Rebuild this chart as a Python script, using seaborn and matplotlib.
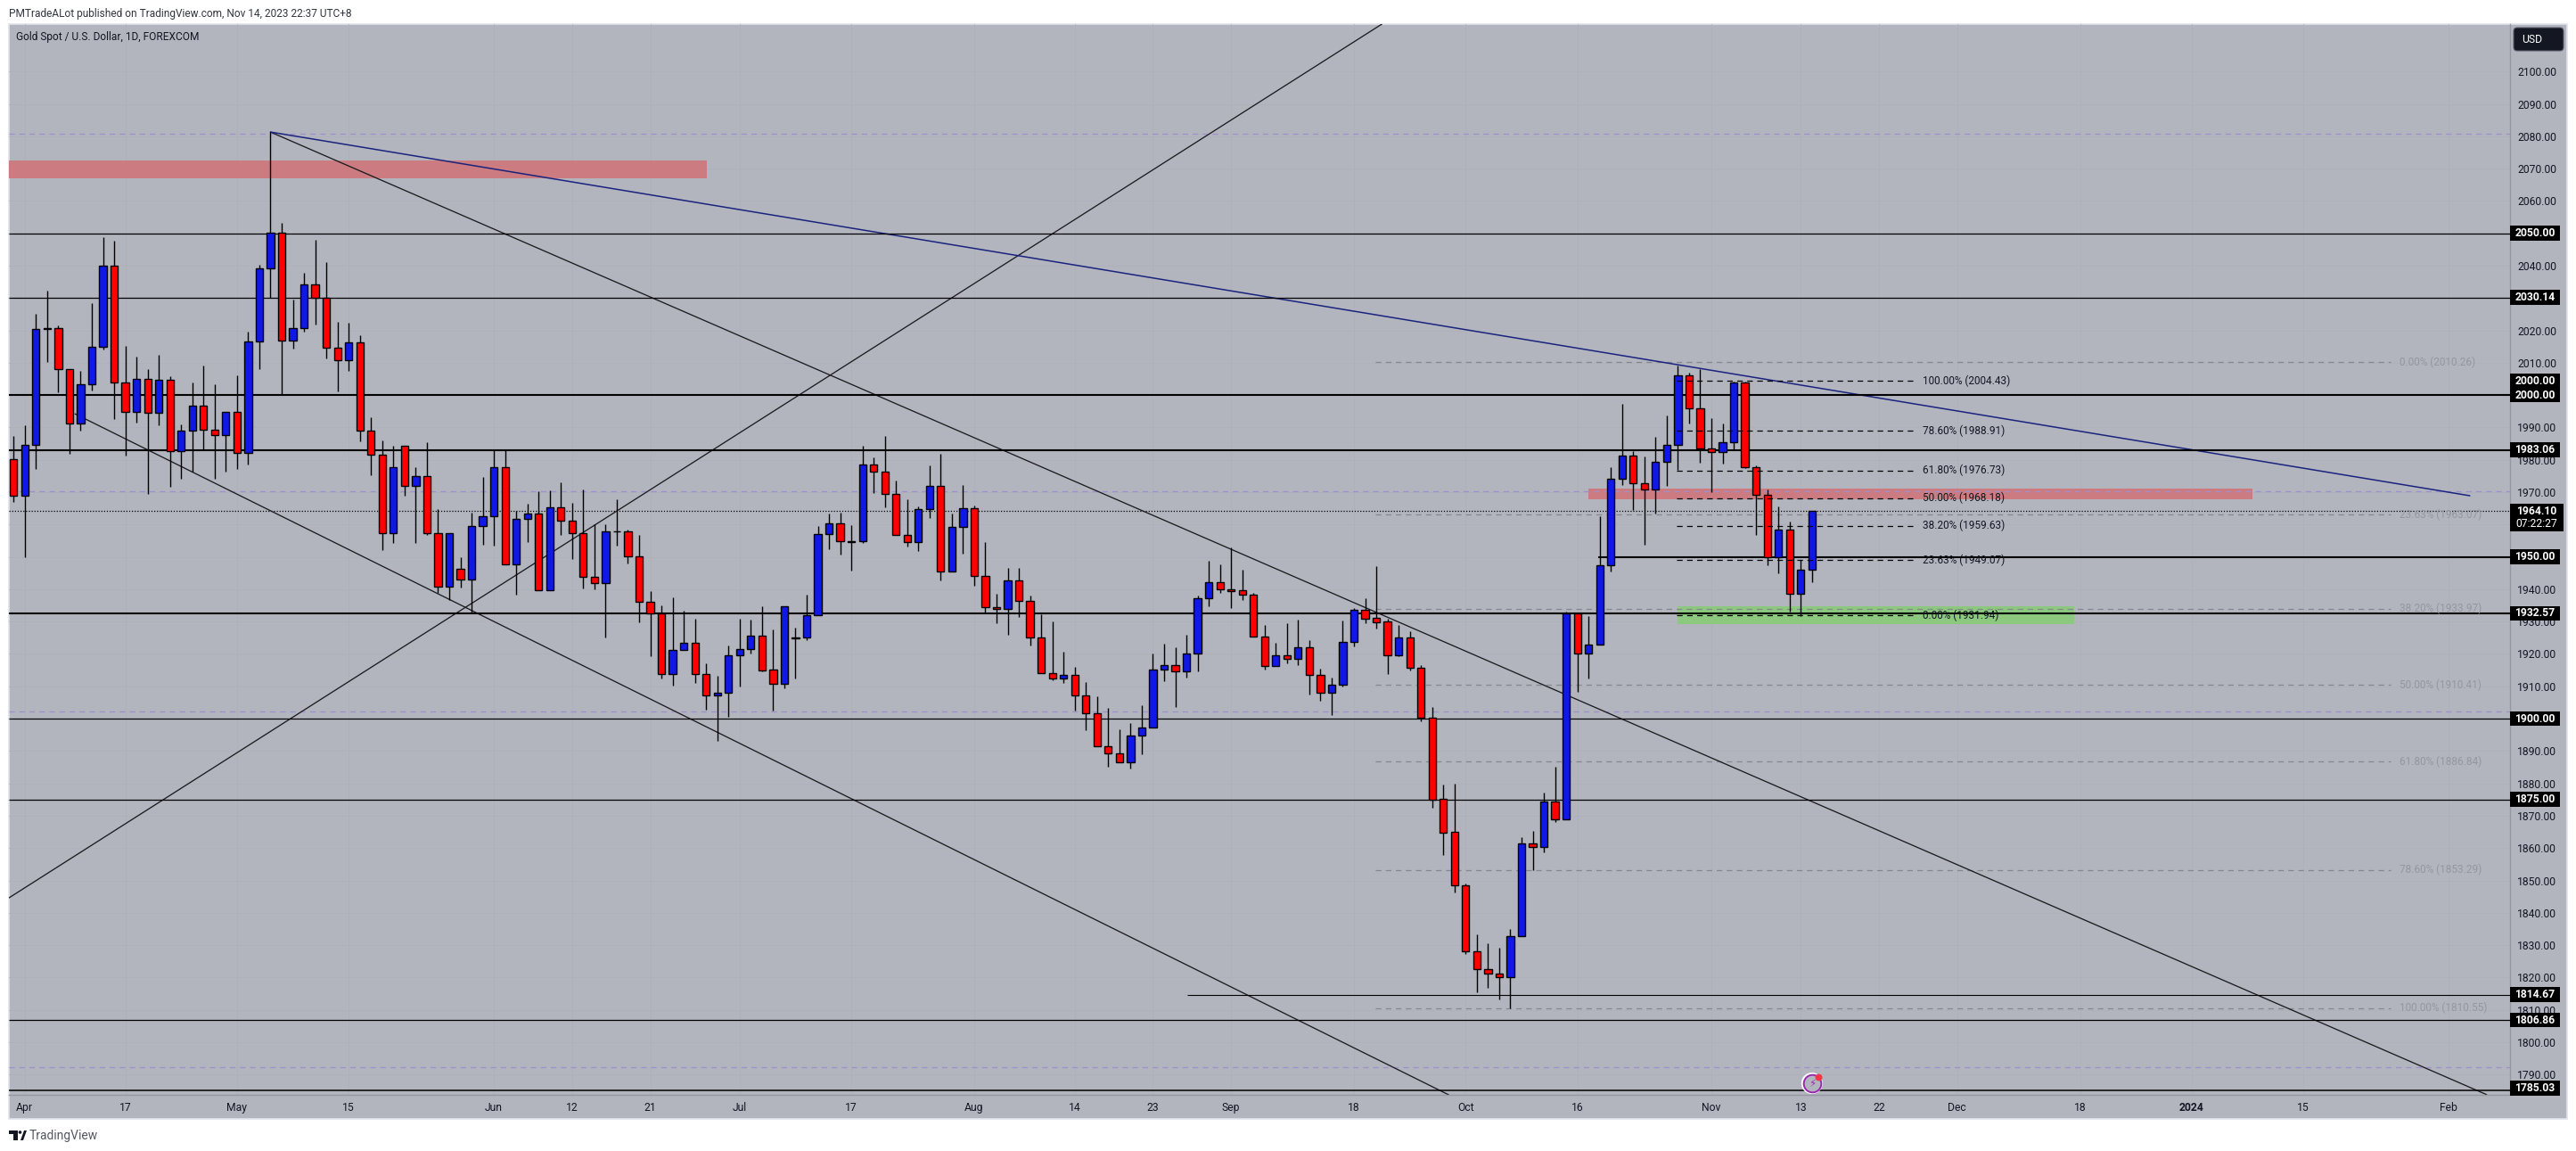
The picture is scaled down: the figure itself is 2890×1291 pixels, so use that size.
import matplotlib
matplotlib.use("Agg")
import matplotlib.pyplot as plt
import matplotlib.patches as mpatches
from matplotlib.transforms import Affine2D
import seaborn as sns
import pandas as pd

# ---------- data (prices) ----------
directions = ("RBBRRRBBBR RBRBRBBRRB RBBBRBBRRR BRRRBRBRRB RBBBRBBRBR "
              "RRRBBRRRRB BRRBBBBRRB BBBBRRBRRR RBBRBBRRRB RRRRBRRRRR "
              "BBBBRBBBRR RRRBRBRRBB BRRRBRRRRR RRRRBBRBRB RBBBBRRBBB "
              "RRRBBRRRBR BB").replace(" ", "")

highs = [1987.5,1990.6,2025.0,2032.2,2021.4,2008.1,2007.4,2028.3,2048.7,2047.6,
         2015.1,2011.8,2008.1,2012.4,2005.7,1990.9,2003.8,2009.2,2003.3,1994.9,
         2006.0,2019.5,2040.4,2081.3,2053.1,2029.4,2037.7,2048.1,2041.2,2022.5,
         2022.3,2018.4,1993.1,1986.1,1984.3,1984.2,1977.6,1985.4,1964.7,1957.2,
         1949.8,1963.6,1974.8,1983.2,1983.2,1964.1,1966.3,1970.3,1970.5,1973.0,
         1966.8,1970.9,1960.2,1960.2,1967.9,1958.5,1956.7,1939.5,1935.0,1937.4,
         1933.3,1930.8,1917.2,1913.2,1922.7,1930.9,1930.6,1934.8,1927.5,1934.7,
         1928.1,1938.3,1959.5,1963.4,1963.8,1959.8,1984.3,1980.8,1987.4,1973.6,
         1967.8,1965.5,1978.3,1981.8,1963.4,1972.2,1965.8,1954.6,1938.6,1946.6,
         1946.6,1938.0,1932.3,1930.1,1920.7,1916.0,1911.3,1906.9,1903.3,1896.7,
         1898.7,1904.2,1920.1,1923.2,1922.1,1925.9,1938.0,1948.8,1947.7,1952.8,
         1946.0,1938.8,1929.0,1923.5,1929.5,1930.6,1924.3,1915.5,1912.7,1930.3,
         1934.2,1937.2,1947.2,1930.9,1929.0,1927.0,1916.6,1903.7,1879.6,1879.9,
         1849.0,1833.3,1830.6,1829.1,1834.9,1863.5,1865.2,1877.1,1885.1,1933.0,
         1932.6,1931.7,1962.6,1977.6,1997.2,1982.8,1980.9,1987.2,1993.6,2009.2,
         2006.9,2008.1,1993.0,1991.1,2004.1,2004.3,1978.4,1970.9,1965.5,1960.8,
         1949.1,1964.1]

body_tops = [1980.3,1984.6,2020.5,2020.7,2020.7,2008.0,2003.4,2014.9,2040.1,2040.1,
             2004.0,2005.1,2005.1,2004.6,2004.6,1989.1,1996.8,1996.8,1989.4,1994.9,
             1994.9,2016.7,2039.3,2050.3,2050.3,2020.8,2034.3,2034.3,2030.2,2014.7,
             2016.4,2016.4,1989.1,1981.7,1977.8,1984.2,1975.1,1975.1,1957.2,1957.2,
             1946.4,1959.4,1962.7,1977.6,1977.6,1961.6,1963.5,1963.5,1965.4,1965.4,
             1961.3,1957.4,1943.7,1958.0,1958.0,1958.0,1950.3,1936.2,1932.6,1921.1,
             1923.3,1923.3,1913.7,1908.1,1919.7,1921.4,1925.6,1925.6,1915.1,1934.7,
             1925.0,1932.0,1957.0,1960.3,1960.3,1954.8,1978.5,1978.5,1976.3,1969.4,
             1956.7,1964.7,1971.9,1971.9,1959.2,1965.0,1965.0,1944.0,1934.4,1942.7,
             1942.7,1936.3,1925.0,1914.0,1913.4,1913.4,1907.1,1901.6,1891.4,1889.2,
             1894.7,1897.2,1915.1,1916.5,1916.5,1920.1,1937.1,1942.1,1942.1,1939.9,
             1939.6,1938.2,1925.5,1919.5,1919.5,1922.0,1922.0,1913.4,1910.4,1923.6,
             1933.6,1933.6,1931.1,1930.0,1925.0,1925.0,1915.7,1900.4,1875.1,1864.9,
             1848.4,1828.0,1822.7,1821.1,1832.7,1861.3,1861.3,1874.3,1874.3,1932.6,
             1932.6,1923.0,1947.5,1974.2,1981.4,1981.4,1972.8,1979.4,1984.7,2006.2,
             2006.2,1996.0,1983.6,1985.5,2003.9,2003.9,1977.8,1969.2,1958.5,1958.5,
             1946.1,1964.1]

body_bottoms = [1969.0,1969.0,1984.7,2020.5,2008.1,1991.3,1991.3,2003.4,2014.9,2004.0,
                1994.9,1994.9,1994.6,1994.6,1982.8,1982.8,1989.1,1989.4,1987.7,1987.7,
                1982.2,1982.2,2016.7,2039.3,2016.9,2016.9,2020.8,2030.2,2014.7,2010.8,
                2010.8,1989.1,1981.7,1957.4,1957.4,1971.8,1971.8,1957.2,1940.9,1940.9,
                1943.1,1943.1,1959.4,1962.7,1947.8,1947.8,1961.6,1939.8,1939.8,1961.3,
                1957.4,1943.7,1942.0,1942.0,1957.9,1950.3,1936.2,1932.6,1913.8,1913.8,
                1921.1,1913.7,1907.2,1907.3,1908.1,1919.5,1921.4,1915.0,1910.7,1910.7,
                1924.9,1925.0,1932.0,1957.0,1954.8,1954.7,1954.8,1976.3,1969.4,1956.7,
                1954.5,1954.5,1964.7,1945.4,1945.4,1959.2,1944.0,1934.4,1933.8,1933.8,
                1936.3,1925.0,1914.0,1912.3,1912.3,1907.1,1901.6,1891.4,1889.2,1886.4,
                1886.4,1894.7,1897.2,1915.1,1914.7,1914.7,1920.1,1937.1,1939.9,1939.5,
                1938.2,1925.5,1916.2,1916.2,1918.6,1918.6,1913.4,1907.9,1907.9,1910.4,
                1923.6,1931.0,1929.9,1919.7,1919.7,1915.7,1900.4,1875.0,1864.8,1848.4,
                1828.0,1822.7,1821.1,1820.0,1820.0,1832.7,1860.2,1860.2,1868.8,1868.8,
                1920.0,1920.0,1923.0,1947.5,1974.2,1972.8,1970.9,1970.9,1979.4,1984.7,
                1996.0,1983.6,1982.5,1982.5,1985.5,1977.8,1969.2,1950.0,1950.0,1938.7,
                1938.7,1946.1]

lows = [1967.0,1949.9,1977.2,2010.2,2000.9,1981.9,1989.0,2001.4,2014.1,1992.5,
        1981.3,1991.4,1969.5,1990.7,1971.7,1974.2,1976.3,1983.3,1974.2,1976.3,
        1977.2,1978.6,2008.0,2030.2,2000.2,2014.4,2019.5,2021.8,2011.3,2001.2,
        2007.4,1985.6,1975.3,1952.1,1954.3,1968.9,1954.3,1956.9,1938.8,1936.7,
        1940.5,1932.8,1953.8,1953.4,1947.8,1938.3,1954.6,1939.8,1939.8,1956.7,
        1949.4,1940.2,1940.0,1925.1,1953.4,1947.9,1929.7,1919.3,1912.5,1910.3,
        1921.1,1911.0,1902.7,1893.2,1900.5,1910.0,1920.0,1914.7,1902.5,1909.5,
        1912.4,1924.4,1931.9,1952.4,1950.7,1945.8,1954.4,1969.8,1965.4,1956.7,
        1953.2,1951.9,1962.0,1942.6,1945.4,1951.1,1941.2,1932.9,1929.6,1925.8,
        1931.5,1922.7,1914.0,1912.0,1910.9,1902.5,1896.3,1891.4,1885.0,1886.4,
        1884.7,1889.0,1897.2,1911.7,1903.6,1912.8,1914.5,1934.8,1939.0,1934.3,
        1936.8,1925.3,1915.3,1916.2,1917.2,1916.6,1907.5,1905.6,1901.0,1909.9,
        1922.4,1929.6,1927.9,1913.9,1919.3,1915.0,1899.1,1872.5,1857.9,1846.3,
        1827.2,1815.5,1816.9,1813.3,1810.5,1832.7,1853.2,1858.7,1868.1,1868.8,
        1908.3,1912.5,1923.0,1945.5,1972.2,1964.5,1953.7,1963.4,1971.8,1976.8,
        1991.1,1979.0,1970.0,1978.8,1983.3,1977.4,1956.7,1947.3,1944.9,1933.0,
        1931.7,1942.1]

# horizontal levels
level_prices = [2050.00, 2030.14, 2000.00, 1983.06, 1950.00, 1932.57, 1900.00, 1875.00, 1814.67, 1806.86, 1785.03]
level_starts = [-0.42, -0.42, -0.42, -0.42, 141.9, -0.42, -0.42, -0.42, 105.1, -0.42, -0.42]
level_widths = [0.9, 0.9, 1.5, 1.5, 1.5, 1.5, 0.9, 0.9, 0.8, 0.9, 1.1]
purple_levels = [2080.7, 1970.3, 1902.2, 1792.2]

# fibonacci retracements
fib_pct = ["100.00%", "78.60%", "61.80%", "50.00%", "38.20%", "23.63%", "0.00%"]
fib_black = [2004.43, 1988.91, 1976.73, 1968.18, 1959.63, 1949.07, 1931.94]
fib_grey_pct = ["0.00%", "23.63%", "38.20%", "50.00%", "61.80%", "78.60%", "100.00%"]
fib_grey = [2010.26, 1963.07, 1933.97, 1910.41, 1886.84, 1853.29, 1810.55]

# zones: x0, x1, low, high
zone_x0 = [-0.42, 141.0, 149.0]
zone_x1 = [62.1, 200.4, 184.5]
zone_low = [2066.9, 1967.7, 1929.1]
zone_high = [2072.5, 1971.0, 1934.8]

# trend lines (bar index, price)
line_x = [[23.0, 221.4], [5.5, 128.5], [-0.42, 122.5]]
line_y = [[2081.3, 1783.8], [1994.2, 1783.7], [1844.6, 2114.67]]
navy_x = [23.0, 219.9]
navy_y = [2081.3, 1968.9]

# axes labels
price_ticks = list(range(1790, 2110, 10))
time_pos = [1, 10, 20, 30, 43, 50, 57, 65, 75, 86, 95, 102, 109, 120, 130, 140, 152, 160, 167, 174, 185, 195, 205, 218]
time_labels = ["Apr", "17", "May", "15", "Jun", "12", "21", "Jul", "17", "Aug", "14", "23", "Sep", "18", "Oct",
               "16", "Nov", "13", "22", "Dec", "18", "2024", "15", "Feb"]
badge_prices = [2050.00, 2030.14, 2004.43, 2000.00, 1983.06, 1950.00, 1932.57, 1900.00, 1875.00, 1814.67, 1806.86, 1785.03 + 0.8]
badge_texts = ["2050.00", "2030.14", "2000.00", "2000.00", "1983.06", "1950.00", "1932.57", "1900.00", "1875.00",
               "1814.67", "1806.86", "1785.03"]
last_price = 1964.10
countdown = "07:22:27"

# ---------- style ----------
W, H = 2890, 1291
BG = "#B2B5BE"
INK = "#131722"
UP = "#1018E8"
DOWN = "#FF0000"
sns.set_theme(style="white", rc={"axes.facecolor": BG, "figure.facecolor": "white"})
plt.rcParams["font.family"] = ["Roboto", "DejaVu Sans"]

fig = plt.figure(figsize=(W / 100, H / 100), dpi=100)
px = Affine2D().scale(1 / W, -1 / H).translate(0, 1) + fig.transFigure

fig.add_artist(mpatches.Rectangle((10, 27), 2870, 1228, transform=px, facecolor=BG,
                                  edgecolor="#E0E3EB", linewidth=1.2, zorder=-5))
L, R, T, B = 10, 2816, 27, 1228
ax = fig.add_axes([L / W, 1 - B / H, (R - L) / W, (B - T) / H])
ax.patch.set_alpha(0)
ax.set_xlim(-0.42, 223.5)
ax.set_ylim(1783.73, 2114.67)
ax.set_axisbelow(True)

ax.yaxis.tick_right()
ax.set_yticks(price_ticks, [f"{v:.2f}" for v in price_ticks])
ax.set_xticks(time_pos, time_labels)
ax.tick_params(axis="y", length=0, pad=5.8, labelsize=8.7, labelcolor=INK)
ax.tick_params(axis="x", length=0, pad=5.5, labelsize=8.7, labelcolor=INK)
ax.get_xticklabels()[time_labels.index("2024")].set_fontweight("bold")
ax.grid(True, color="#AEB1BA", linewidth=0.7)
for s in ("top", "left"):
    ax.spines[s].set_visible(False)
for s in ("right", "bottom"):
    ax.spines[s].set_color("#9598A1")
    ax.spines[s].set_linewidth(1.0)

# zones
zone_colors = ["#CC7B80", "#CC7B80", "#8CC97E"]
for x0, x1, lo, hi, c in zip(zone_x0, zone_x1, zone_low, zone_high, zone_colors):
    ax.add_patch(mpatches.Rectangle((x0, lo), x1 - x0, hi - lo, facecolor=c, edgecolor="none", zorder=1))

# dashed/dotted levels
ax.hlines(purple_levels, -0.42, 223.5, color="#9D90CC", linewidth=0.9, linestyles=(0, (5, 4)), zorder=1.2)
ax.hlines(fib_grey, 121.9, 212.8, color="#85878F", linewidth=0.9, linestyles=(0, (5, 4)), zorder=1.3)
ax.hlines(last_price, -0.42, 223.5, color="black", linewidth=0.9, linestyles=(0, (1, 1.5)), zorder=1.4)

# candles
df = pd.DataFrame({"i": range(len(highs)), "high": highs, "low": lows, "top": body_tops,
                   "bottom": body_bottoms, "dir": list(directions)})
ax.vlines(df["i"], df["low"], df["high"], color="black", linewidth=1.0, zorder=3)
ax.bar(df["i"], df["top"] - df["bottom"], bottom=df["bottom"], width=0.66,
       color=[UP if d == "B" else DOWN for d in df["dir"]],
       edgecolor="black", linewidth=1.0, zorder=4)

# solid levels
for p, s, w in zip(level_prices, level_starts, level_widths):
    ax.hlines(p, s, 223.5, color="black", linewidth=w, zorder=2.6)

# black fib
ax.hlines(fib_black, 148.9, 170.3, color="black", linewidth=0.9, linestyles=(0, (5, 4)), zorder=4.5)

# trend lines
for xs, ys in zip(line_x, line_y):
    sns.lineplot(x=xs, y=ys, color="#1c1c20", linewidth=0.95, ax=ax, estimator=None, sort=False, zorder=2.4)
sns.lineplot(x=navy_x, y=navy_y, color="#1A237E", linewidth=1.1, ax=ax, estimator=None, sort=False, zorder=2.5)
ax.set_xlabel("")
ax.set_ylabel("")

# fib labels
for pct, v in zip(fib_pct, fib_black):
    ax.text(170.9, v, f"{pct} ({v:.2f})", color=INK, fontsize=8.5, va="center", ha="left", zorder=5)
for pct, v in zip(fib_grey_pct, fib_grey):
    ax.text(213.6, v, f"{pct} ({v:.2f})", color="#94979F", fontsize=8.5, va="center", ha="left", zorder=5)

# price badges
ytr = ax.get_yaxis_transform()
def ax_x(p):
    return (p - L) / (R - L)
for p, txt in zip(badge_prices, badge_texts):
    ax.add_patch(mpatches.Rectangle((ax_x(2816), p - 2.3), ax_x(2872) - ax_x(2816), 4.6, transform=ytr,
                                    facecolor="black", edgecolor="none", clip_on=False, zorder=9))
    ax.text(ax_x(2844), p, txt, transform=ytr, color="white", fontsize=8.7, fontweight="bold",
            ha="center", va="center", clip_on=False, zorder=10)
ax.add_patch(mpatches.Rectangle((ax_x(2816), last_price - 6.2), ax_x(2876) - ax_x(2816), 8.5, transform=ytr,
                                facecolor="black", edgecolor="none", clip_on=False, zorder=9))
ax.text(ax_x(2846), last_price, f"{last_price:.2f}", transform=ytr, color="white", fontsize=8.7, fontweight="bold",
        ha="center", va="center", clip_on=False, zorder=10)
ax.text(ax_x(2846), last_price - 3.8, countdown, transform=ytr, color="white", fontsize=8.7,
        ha="center", va="center", clip_on=False, zorder=10)

# bolt marker
ax.scatter([161], [1787.3], s=300, facecolor="white", edgecolor="none", zorder=5.8)
ax.scatter([161], [1787.3], s=200, facecolor=BG, edgecolor="#9C27B0", linewidth=1.4, zorder=6)
ax.text(161, 1787.3, "\u26A1", color="#9C27B0", fontsize=8.5, ha="center", va="center", zorder=7,
        family=["DejaVu Sans"])
ax.scatter([161.6], [1789.3], s=22, color="#F23645", zorder=8)

# USD box
fig.add_artist(mpatches.FancyBboxPatch((2822, 33), 52, 22, boxstyle="round,pad=2,rounding_size=4", transform=px,
                                       facecolor=INK, edgecolor="#5D606B", linewidth=0.8, zorder=5))
fig.text(2829 / W, 1 - 44.5 / H, "USD", color="white", fontsize=8.7, va="center", ha="left", zorder=6)

# header / footer
fig.text(10 / W, 1 - 15 / H, "PMTradeALot published on TradingView.com, Nov 14, 2023 22:37 UTC+8",
         color="#333640", fontsize=8.6, va="center", ha="left")
fig.text(18 / W, 1 - 42 / H, "Gold Spot / U.S. Dollar, 1D, FOREXCOM", color=INK, fontsize=8.6, va="center", ha="left")
for shape in ([(10, 1268), (20, 1268), (20, 1279), (15, 1279), (15, 1272), (10, 1272)],
              [(23, 1279), (27, 1268), (30, 1268), (26, 1279)]):
    fig.add_artist(mpatches.Polygon(shape, closed=True, transform=px, facecolor="#131722", edgecolor="none"))
fig.add_artist(mpatches.Circle((22.5, 1270), 1.8, transform=px, facecolor="#131722", edgecolor="none"))
fig.text(33 / W, 1 - 1274 / H, "TradingView", color="#555862", fontsize=10, va="center", ha="left")

fig.savefig("out.png", dpi=100, facecolor="white")
